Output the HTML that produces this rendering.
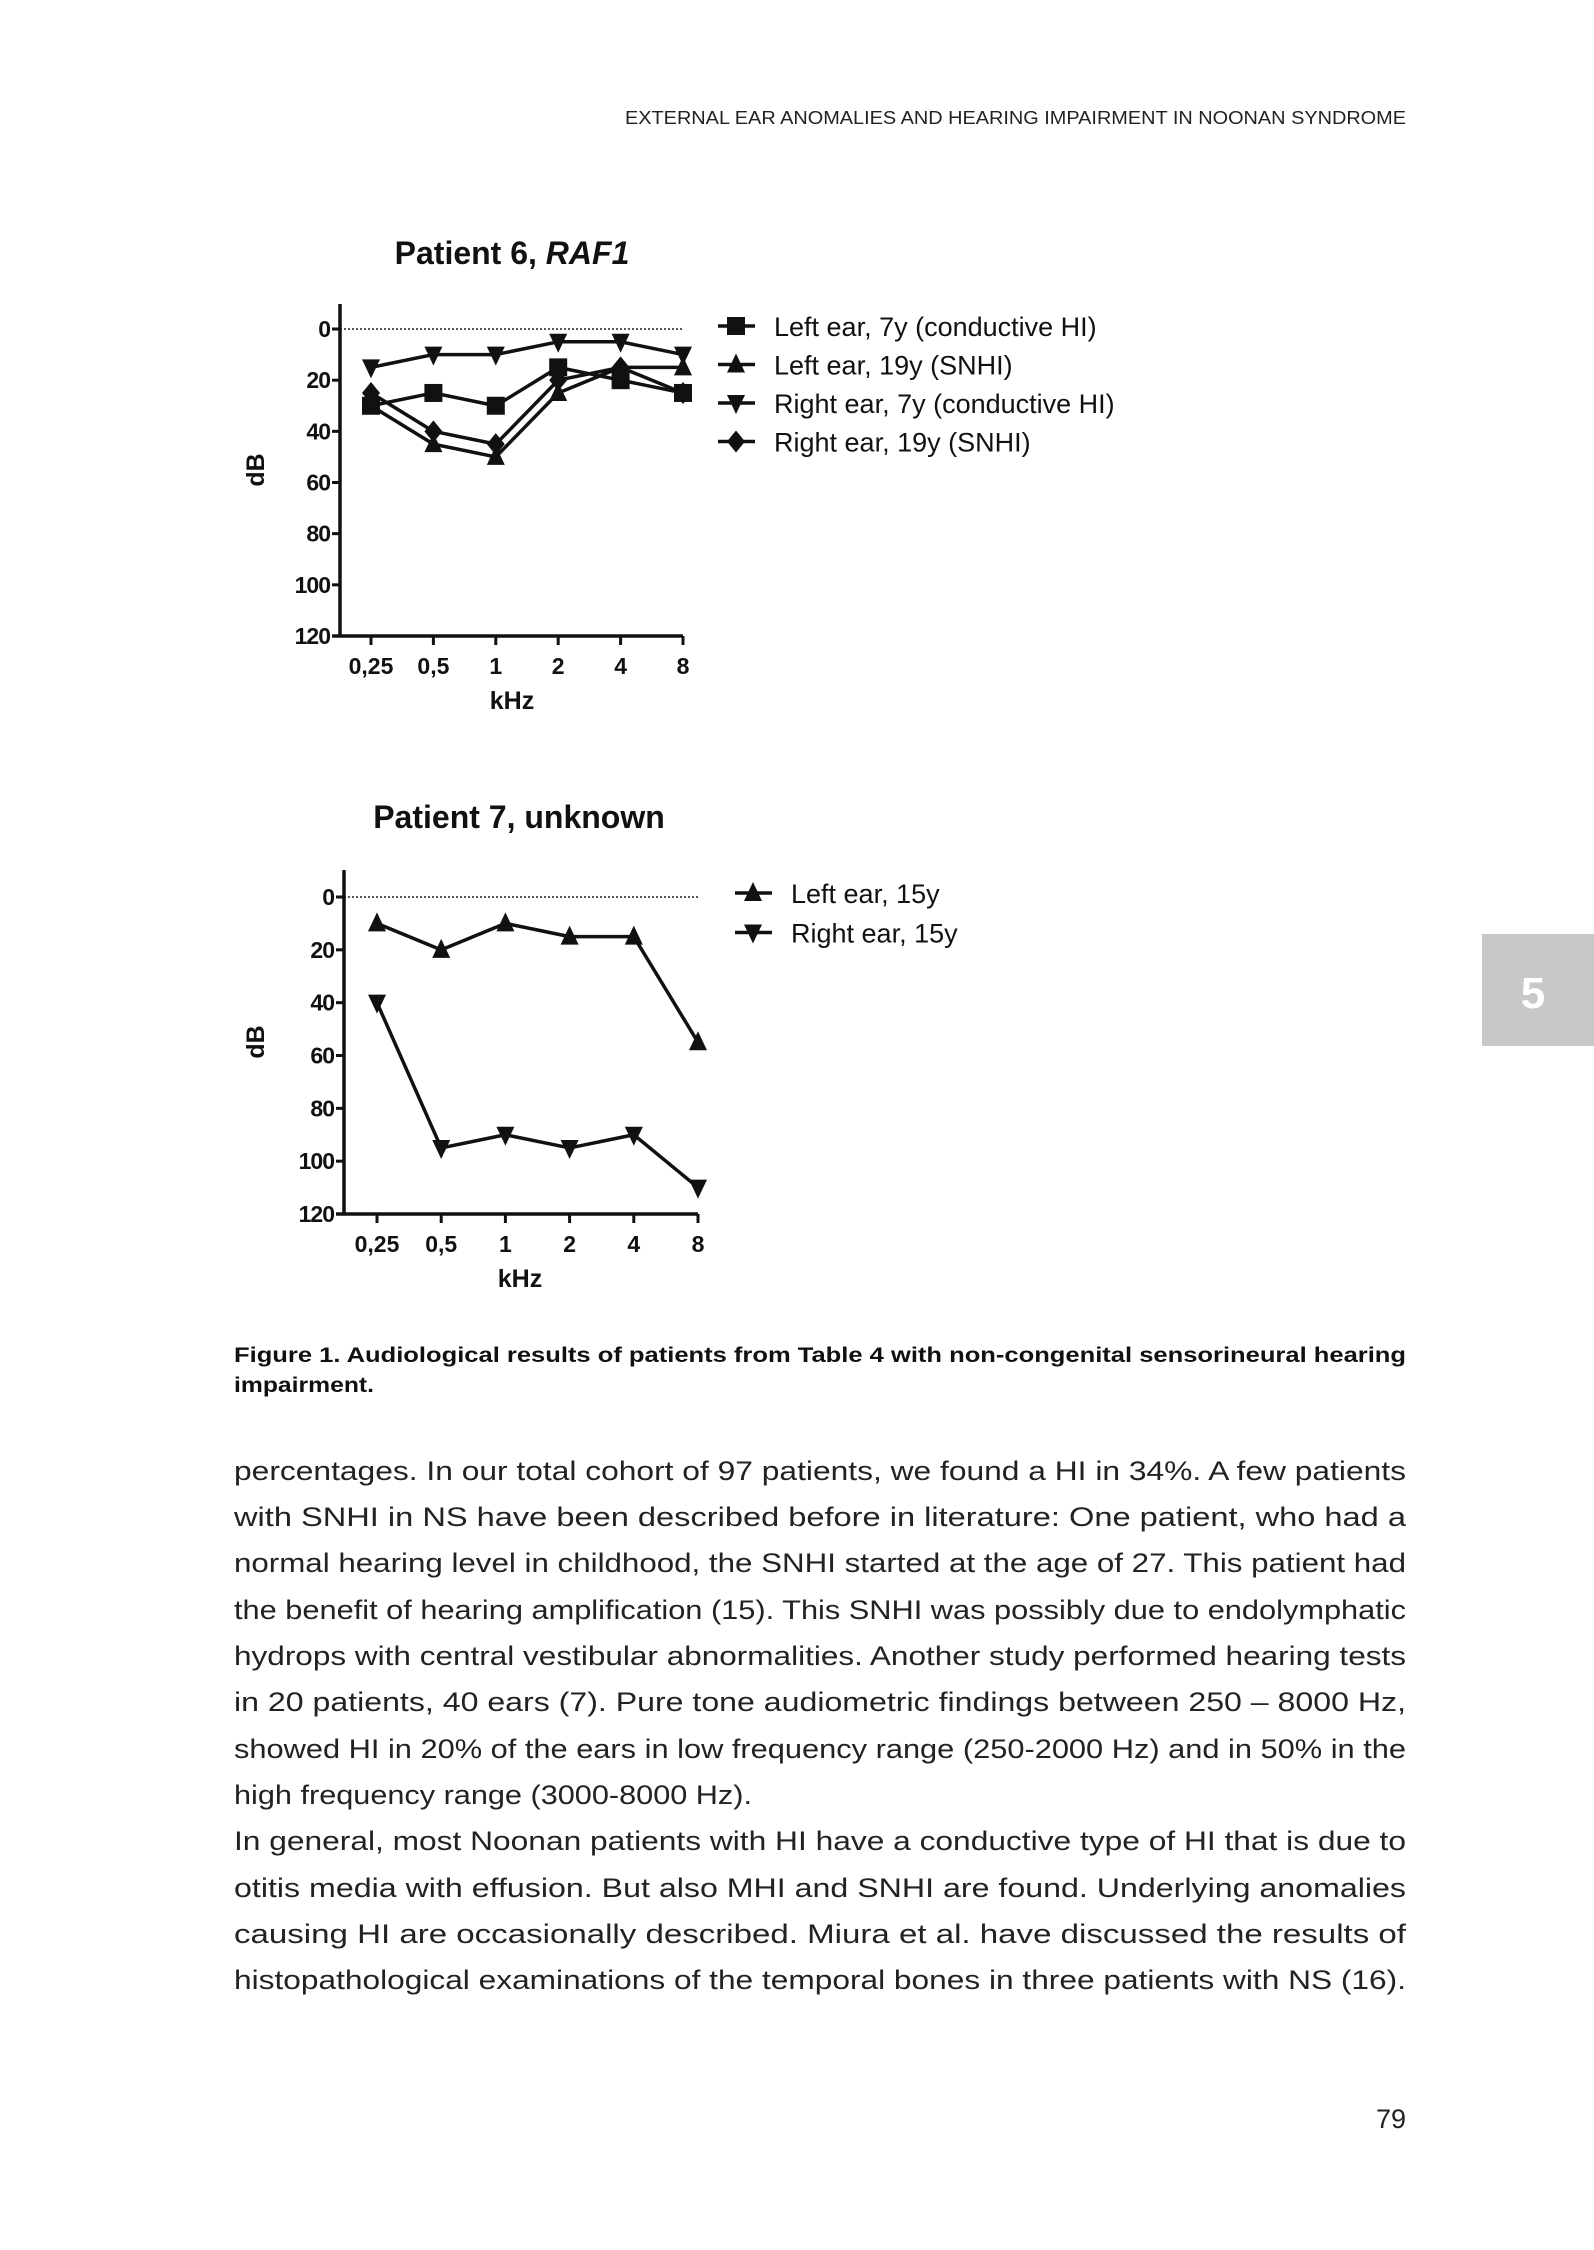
<!DOCTYPE html>
<html><head><meta charset="utf-8"><style>
html,body{margin:0;padding:0;background:#fff;}
svg{display:block;font-family:"Liberation Sans",Arial,sans-serif;}
</style></head><body>
<svg id="page" width="1594" height="2250" viewBox="0 0 1594 2250">
<text x="1406" y="124" font-size="18" text-anchor="end" fill="#222" textLength="781" lengthAdjust="spacingAndGlyphs">EXTERNAL EAR ANOMALIES AND HEARING IMPAIRMENT IN NOONAN SYNDROME</text>
<rect x="1482" y="934" width="112" height="112" fill="#c8c8c8"/>
<text x="1533" y="1008" font-size="44" font-weight="bold" fill="#fff" text-anchor="middle">5</text>
<g id="chart1"></g>
<g id="chart2"></g>
<g font-size="21" font-weight="bold" fill="#111">
<text x="234" y="1362" textLength="1172" lengthAdjust="spacingAndGlyphs">Figure 1. Audiological results of patients from Table 4 with non-congenital sensorineural hearing</text>
<text x="234" y="1392" textLength="140" lengthAdjust="spacingAndGlyphs">impairment.</text>
</g>
<g font-size="27" fill="#222">
<text x="234" y="1480" textLength="1172" lengthAdjust="spacingAndGlyphs">percentages. In our total cohort of 97 patients, we found a HI in 34%. A few patients</text>
<text x="234" y="1526" textLength="1172" lengthAdjust="spacingAndGlyphs">with SNHI in NS have been described before in literature: One patient, who had a</text>
<text x="234" y="1572" textLength="1172" lengthAdjust="spacingAndGlyphs">normal hearing level in childhood, the SNHI started at the age of 27. This patient had</text>
<text x="234" y="1619" textLength="1172" lengthAdjust="spacingAndGlyphs">the benefit of hearing amplification (15). This SNHI was possibly due to endolymphatic</text>
<text x="234" y="1665" textLength="1172" lengthAdjust="spacingAndGlyphs">hydrops with central vestibular abnormalities. Another study performed hearing tests</text>
<text x="234" y="1711" textLength="1172" lengthAdjust="spacingAndGlyphs">in 20 patients, 40 ears (7). Pure tone audiometric findings between 250 – 8000 Hz,</text>
<text x="234" y="1758" textLength="1172" lengthAdjust="spacingAndGlyphs">showed HI in 20% of the ears in low frequency range (250-2000 Hz) and in 50% in the</text>
<text x="234" y="1804" textLength="518" lengthAdjust="spacingAndGlyphs">high frequency range (3000-8000 Hz).</text>
<text x="234" y="1850" textLength="1172" lengthAdjust="spacingAndGlyphs">In general, most Noonan patients with HI have a conductive type of HI that is due to</text>
<text x="234" y="1897" textLength="1172" lengthAdjust="spacingAndGlyphs">otitis media with effusion. But also MHI and SNHI are found. Underlying anomalies</text>
<text x="234" y="1943" textLength="1172" lengthAdjust="spacingAndGlyphs">causing HI are occasionally described. Miura et al. have discussed the results of</text>
<text x="234" y="1989" textLength="1172" lengthAdjust="spacingAndGlyphs">histopathological examinations of the temporal bones in three patients with NS (16).</text>
</g>
<text x="1406" y="2128" font-size="27" fill="#222" text-anchor="end">79</text>
</svg>
<script>
const categories = ["0,25","0,5","1","2","4","8"];
const yTicks = [0,20,40,60,80,100,120];
const p6Left7 = [30,25,30,15,20,25];
const p6Left19 = [30,45,50,25,15,15];
const p6Right7 = [15,10,10,5,5,10];
const p6Right19 = [25,40,45,20,15,25];
const p7Left15 = [10,20,10,15,15,55];
const p7Right15 = [40,95,90,95,90,110];
const p6Labels = ["Left ear, 7y (conductive HI)","Left ear, 19y (SNHI)","Right ear, 7y (conductive HI)","Right ear, 19y (SNHI)"];
const p7Labels = ["Left ear, 15y","Right ear, 15y"];

const NS="http://www.w3.org/2000/svg";
function mk(parent,tag,attrs,txt){const e=document.createElementNS(NS,tag);for(const k in attrs)e.setAttribute(k,attrs[k]);if(txt!==undefined)e.textContent=txt;parent.appendChild(e);return e;}
function marker(g,type,x,y){
  const s=9;
  let el;
  if(type==='square') el=mk(g,'rect',{x:x-s,y:y-s,width:2*s,height:2*s,fill:'#111'});
  else if(type==='up') el=mk(g,'polygon',{points:`${x},${y-s-2} ${x-s},${y+s-1} ${x+s},${y+s-1}`,fill:'#111'});
  else if(type==='down') el=mk(g,'polygon',{points:`${x},${y+s+2} ${x-s},${y-s+1} ${x+s},${y-s+1}`,fill:'#111'});
  else el=mk(g,'polygon',{points:`${x},${y-s-2} ${x+s},${y} ${x},${y+s+2} ${x-s},${y}`,fill:'#111'});
  
  
}
function drawChart(cfg){
  const g=document.getElementById(cfg.id);
  const ax=cfg.ax, y0=cfg.y0, y1=cfg.y1, xs=cfg.xs, xe=cfg.xe;
  const X=i=>xs+i*(xe-xs)/(categories.length-1);
  const Y=v=>y0+(v/120)*(y1-y0);
  const t=mk(g,'text',{x:cfg.tx,y:cfg.ty,'font-size':32,'font-weight':'bold','text-anchor':'middle',fill:'#111'});
  
  
  mk(t,'tspan',{},cfg.title);
  if(cfg.italic) mk(t,'tspan',{'font-style':'italic'},cfg.italic);
  const dl=mk(g,'line',{x1:ax,x2:xe,y1:Y(0),y2:Y(0),stroke:'#222','stroke-width':1.5,'stroke-dasharray':'2 2'});
  
  
  const ya=mk(g,'line',{x1:ax,x2:ax,y1:cfg.top,y2:y1+1.5,stroke:'#111','stroke-width':3.5});
  
  
  const xa=mk(g,'line',{x1:ax-8,x2:xe,y1:y1,y2:y1,stroke:'#111','stroke-width':3.5});
  
  
  yTicks.forEach(v=>{
    mk(g,'line',{x1:ax-8,x2:ax,y1:Y(v),y2:Y(v),stroke:'#111','stroke-width':3});
    const l=mk(g,'text',{x:ax-10,y:Y(v)+8,'font-size':23,'font-weight':'bold','text-anchor':'end',fill:'#111','letter-spacing':'-1'},String(v));
    
    
  });
  categories.forEach((c,i)=>{
    mk(g,'line',{x1:X(i),x2:X(i),y1:y1,y2:y1+9,stroke:'#111','stroke-width':3});
    const l=mk(g,'text',{x:X(i),y:y1+38,'font-size':23,'font-weight':'bold','text-anchor':'middle',fill:'#111'},c);
    
    
  });
  const xt=mk(g,'text',{x:cfg.kHzX,y:cfg.kHzY,'font-size':25,'font-weight':'bold','text-anchor':'middle',fill:'#111'},'kHz');
  
  
  const yt=mk(g,'text',{x:0,y:0,'font-size':25,'font-weight':'bold','text-anchor':'middle',fill:'#111',transform:`translate(${cfg.dbX},${cfg.dbY}) rotate(-90)`},'dB');
  
  
  cfg.series.forEach((s,k)=>{
    const sg=mk(g,'g',{});
    
    
    const pl=mk(sg,'polyline',{points:s.data.map((v,i)=>X(i)+','+Y(v)).join(' '),fill:'none',stroke:'#111','stroke-width':3.5,'stroke-linejoin':'round'});
    
    
    s.data.forEach((v,i)=>marker(sg,s.m,X(i),Y(v)));
    const ly=cfg.legY+k*cfg.legStep;
    const lg=mk(g,'g',{});
    
    
    mk(lg,'line',{x1:cfg.legX,x2:cfg.legX+37,y1:ly,y2:ly,stroke:'#111','stroke-width':3.5});
    marker(lg,s.m,cfg.legX+18,ly);
    mk(lg,'text',{x:cfg.legX+56,y:ly+10,'font-size':27,fill:'#111'},s.label);
  });
}
drawChart({id:'chart1',ax:340,top:304,y0:329,y1:636,xs:371,xe:683,tx:512,ty:264,title:'Patient 6, ',italic:'RAF1',kHzX:512,kHzY:709,dbX:264,dbY:470,legX:718,legY:326,legStep:38.5,
 series:[{data:p6Left7,m:'square',label:p6Labels[0]},{data:p6Left19,m:'up',label:p6Labels[1]},{data:p6Right7,m:'down',label:p6Labels[2]},{data:p6Right19,m:'diamond',label:p6Labels[3]}]});
drawChart({id:'chart2',ax:344,top:870,y0:897,y1:1214,xs:377,xe:698,tx:519,ty:828,title:'Patient 7, unknown',kHzX:520,kHzY:1287,dbX:264,dbY:1042,legX:735,legY:893,legStep:39.5,
 series:[{data:p7Left15,m:'up',label:p7Labels[0]},{data:p7Right15,m:'down',label:p7Labels[1]}]});
</script>
</body></html>
